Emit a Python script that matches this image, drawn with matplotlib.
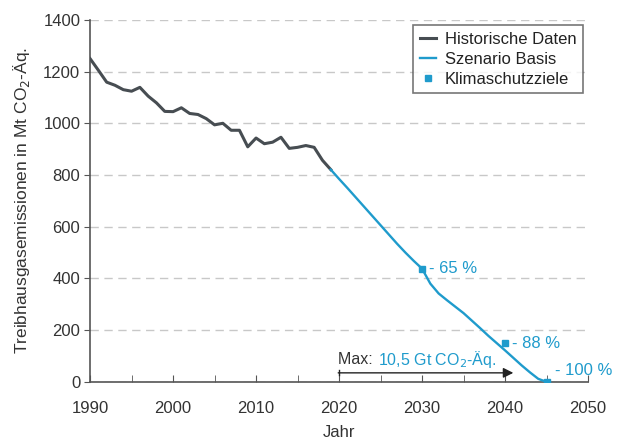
import matplotlib.pyplot as plt
import numpy as np

plt.rcParams['font.family'] = ['Liberation Sans', 'DejaVu Sans']

# Historische Emissionen (Mt CO2-Äq.)
hist_years = list(range(1990, 2020))
hist_values = [1250, 1205, 1159, 1147, 1130, 1124, 1139, 1105, 1079, 1046,
               1045, 1060, 1038, 1034, 1018, 994, 1000, 973, 973, 909,
               943, 921, 927, 946, 903, 907, 914, 907, 857, 821]

# Szenario Basis
scen_years = list(range(2019, 2046))
scen_values = [821, 785, 750, 714, 678, 642, 606, 570, 534, 500,
               468, 438, 380, 342, 316, 291, 266, 237, 208, 178,
               150, 122, 93, 64, 37, 12, 0]

# Klimaschutzziele gegenüber 1990
target_years = [2030, 2040, 2045]
target_pct = [65, 88, 100]
target_values = [hist_values[0] * (1 - p / 100) for p in target_pct]
target_labels = ['- 65 %', '- 88 %', '- 100 %']

GRAY = '#474d52'
BLUE = '#1f9bcc'
TEXT = '#333333'

fig = plt.figure(figsize=(6.17, 4.41), dpi=100)
ax = fig.add_axes([0.146, 0.134, 0.807, 0.821])

ax.plot(hist_years, hist_values, color=GRAY, lw=2.2, label='Historische Daten', zorder=3)
ax.plot(scen_years, scen_values, color=BLUE, lw=1.7, label='Szenario Basis', zorder=3)
ax.plot(target_years, target_values, ls='none', marker='s', ms=5, color=BLUE,
        label='Klimaschutzziele', zorder=4)

offsets = [(0.8, 0), (0.8, 0), (1.0, 45)]
for x, y, lab, (dx, dy) in zip(target_years, target_values, target_labels, offsets):
    ax.text(x + dx, y + dy, lab, color=BLUE, fontsize=12, va='center', ha='left')

# Budget-Pfeil
ax.annotate('', xy=(2041, 35), xytext=(2019.9, 35),
            arrowprops=dict(arrowstyle='-|>', color='#222222', lw=1.0,
                            mutation_scale=15, shrinkA=0, shrinkB=0))
ax.plot([2020, 2020], [25, 45], color='#222222', lw=1.0)
t1 = ax.text(2019.9, 88, 'Max: ', color=TEXT, fontsize=11.5, va='center', ha='left')
fig.canvas.draw()
bb = t1.get_window_extent()
x_end = ax.transData.inverted().transform((bb.x1, bb.y0))[0]
ax.text(x_end, 88, '10,5 Gt CO$_2$-Äq.', color=BLUE, fontsize=11.5, va='center', ha='left')

ax.set_xlim(1990, 2050)
ax.set_ylim(0, 1400)
ax.set_xticks(range(1990, 2051, 10))
ax.set_xticks(range(1990, 2051, 5), minor=True)
ax.set_yticks(range(0, 1401, 200))
ax.yaxis.grid(True, ls=(0, (6, 4)), color='#c8c8c8', lw=1.0)
ax.set_axisbelow(True)

for s in ['top', 'right']:
    ax.spines[s].set_visible(False)
for s in ['left', 'bottom']:
    ax.spines[s].set_color('#555555')
    ax.spines[s].set_linewidth(1.2)

ax.tick_params(axis='y', direction='out', length=4, color='#555555', labelsize=12,
               labelcolor=TEXT, pad=3)
ax.tick_params(axis='x', which='both', direction='in', length=5, color='#555555',
               labelsize=12, labelcolor=TEXT, pad=14)

ax.set_xlabel('Jahr', fontsize=12, color=TEXT, labelpad=6)
ax.set_ylabel('Treibhausgasemissionen in Mt CO$_2$-Äq.', fontsize=12.5, color=TEXT, labelpad=8)

leg = ax.legend(loc='upper right', bbox_to_anchor=(1.0, 1.0), fontsize=12,
                frameon=True, fancybox=False, handlelength=1.0, handletextpad=0.5,
                borderpad=0.4, labelspacing=0.3, borderaxespad=0.3)
leg.get_frame().set_edgecolor('#555555')
leg.get_frame().set_linewidth(1.2)
for t in leg.get_texts():
    t.set_color('#222222')

fig.savefig('out.png', dpi=100)
